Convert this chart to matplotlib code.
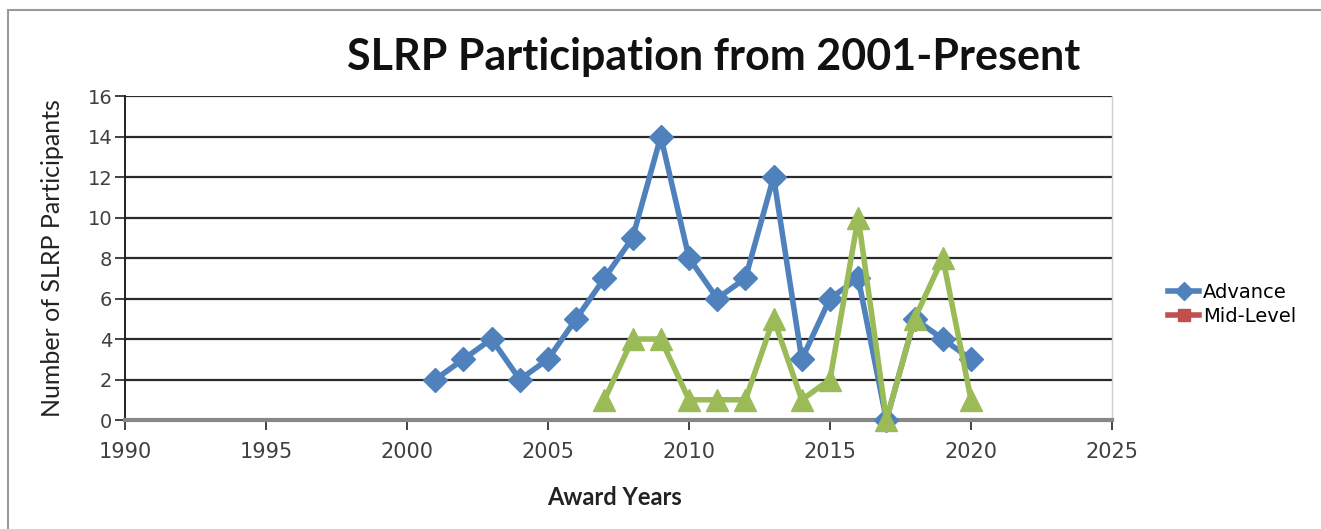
import matplotlib.pyplot as plt
from matplotlib.patches import Rectangle
from matplotlib.lines import Line2D

# data
adv_years = [2001, 2002, 2003, 2004, 2005, 2006, 2007, 2008, 2009, 2010,
             2011, 2012, 2013, 2014, 2015, 2016, 2017, 2018, 2019, 2020]
adv_vals = [2, 3, 4, 2, 3, 5, 7, 9, 14, 8, 6, 7, 12, 3, 6, 7, 0, 5, 4, 3]

third_years = [2007, 2008, 2009, 2010, 2011, 2012, 2013, 2014, 2015, 2016,
               2017, 2018, 2019, 2020]
third_vals = [1, 4, 4, 1, 1, 1, 5, 1, 2, 10, 0, 5, 8, 1]

x_ticks = [1990, 1995, 2000, 2005, 2010, 2015, 2020, 2025]
y_ticks = [0, 2, 4, 6, 8, 10, 12, 14, 16]

blue = '#4F81BD'
green = '#9BBB59'
red = '#C0504D'

plt.rcParams['font.family'] = ['Lato', 'DejaVu Sans']

fig = plt.figure(figsize=(13.21, 5.29), dpi=100)
ax = fig.add_axes([0.0946, 0.206, 0.7472, 0.6125])

# outer chart frame
fig.patches.append(Rectangle((8 / 1321, -0.05), 1.1, 1 - 10 / 529 + 0.05,
                             transform=fig.transFigure, fill=False,
                             edgecolor='#9a9a9a', lw=1.5))

ax.plot(adv_years, adv_vals, color=blue, lw=4, marker='D',
        markersize=12, zorder=3, clip_on=False)
ax.plot(third_years, third_vals, color=green, lw=4, marker='^',
        markersize=16, zorder=4, clip_on=False)

ax.set_xlim(1990, 2025)
ax.set_ylim(0, 16)
ax.set_xticks(x_ticks)
ax.set_yticks(y_ticks)
ax.tick_params(axis='both', labelcolor='#404040', length=7,
               width=1.2, color='#222222', direction='out')
ax.tick_params(axis='x', pad=9, labelsize=15)
ax.tick_params(axis='y', pad=2, labelsize=14)
for lab in ax.get_xticklabels() + ax.get_yticklabels():
    lab.set_family('DejaVu Sans')

for y in y_ticks[1:]:
    ax.axhline(y, color='#2a2a2a', lw=1.6, zorder=1)

ax.spines['top'].set_visible(False)
ax.spines['right'].set_color('#d0d0d0')
ax.spines['right'].set_linewidth(1)
ax.spines['left'].set_color('#222222')
ax.spines['left'].set_linewidth(1.4)
ax.spines['bottom'].set_color('#888888')
ax.spines['bottom'].set_linewidth(3)

ax.set_xlabel('Award Years', fontsize=17, fontweight='bold', color='#222222')
ax.set_ylabel('Number of SLRP Participants', fontsize=18, color='#222222')
ax.xaxis.set_label_coords(0.496, -0.205)
ax.yaxis.set_label_coords(-0.062, 0.5)

fig.text(0.540, 0.892, 'SLRP Participation from 2001-Present', ha='center',
         va='center', fontsize=31, fontweight='bold', color='#111111')

handles = [Line2D([], [], color=blue, lw=4, marker='D', markersize=9),
           Line2D([], [], color=red, lw=4, marker='s', markersize=9)]
fig.legend(handles, ['Advance', 'Mid-Level'], loc='center left',
           bbox_to_anchor=(0.871, 0.425), frameon=False,
           prop={'family': 'DejaVu Sans', 'size': 14},
           handlelength=1.6, handletextpad=0.2, labelspacing=0.25)

fig.savefig('out.png', dpi=100)
